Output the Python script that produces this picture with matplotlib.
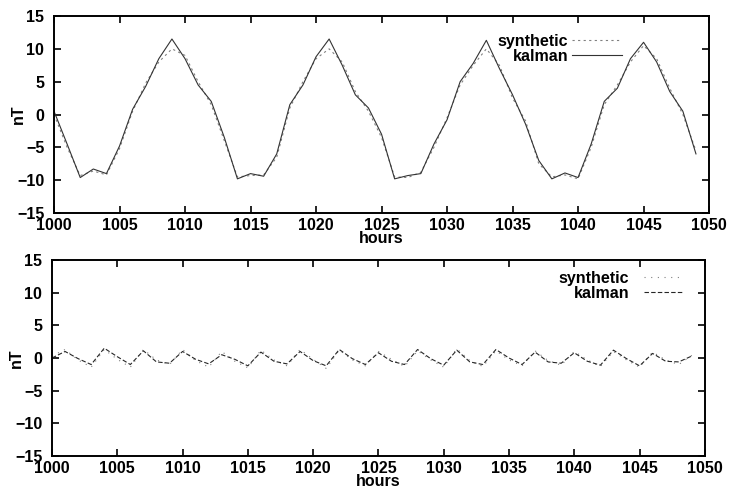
import numpy as np
import matplotlib
matplotlib.use("Agg")
import matplotlib.pyplot as plt

plt.rcParams['font.family'] = ['Liberation Sans', 'DejaVu Sans']
plt.rcParams['font.weight'] = 'bold'

# hourly samples
hours_top = np.arange(1000, 1050)
synthetic_top = [0.0, -5.0, -9.3, -8.6, -9.2, -5.2, 0.5, 4.8, 8.0, 10.0,
                 9.0, 5.0, 1.5, -4.0, -9.5, -9.3, -9.2, -6.5, 1.0, 5.0,
                 8.5, 10.0, 8.0, 3.5, 0.5, -3.5, -9.5, -9.6, -8.8, -5.0,
                 -0.5, 4.5, 7.5, 10.0, 7.5, 2.5, -1.0, -7.5, -9.5, -9.2,
                 -9.8, -5.0, 1.5, 4.5, 8.0, 10.5, 8.5, 4.0, 0.0, -5.5]
kalman_top = [0.5, -4.5, -9.6, -8.3, -9.0, -4.8, 0.8, 4.3, 8.5, 11.5,
              8.5, 4.5, 2.0, -3.5, -9.8, -9.0, -9.4, -6.0, 1.5, 4.5,
              8.8, 11.5, 7.5, 3.0, 1.0, -3.0, -9.8, -9.3, -9.0, -4.5,
              -0.8, 5.0, 7.8, 11.3, 7.0, 3.0, -1.5, -7.0, -9.8, -8.9,
              -9.6, -4.5, 2.0, 4.0, 8.5, 11.0, 8.0, 3.5, 0.5, -6.0]

hours_bot = np.arange(1000, 1050)
synthetic_bot = [0.3, 1.3, -0.3, -1.4, 1.3, -0.2, -1.4, 1.3, -0.3, -1.0,
                 1.3, -0.4, -1.4, 1.0, -0.5, -1.5, 1.2, -0.3, -1.2, 1.3,
                 -0.2, -1.6, 1.2, -0.3, -1.2, 1.0, -0.2, -1.3, 1.1, -0.3,
                 -1.4, 1.4, -0.4, -1.3, 1.1, -0.3, -1.2, 1.1, -0.4, -1.1,
                 1.0, -0.3, -1.3, 1.0, -0.3, -1.4, 0.9, -0.3, -1.0, 0.4]
kalman_bot = [0.0, 1.0, -0.1, -1.0, 1.5, 0.2, -1.0, 1.1, -0.6, -0.8,
              1.0, -0.2, -0.9, 0.5, -0.2, -1.2, 0.9, -0.5, -0.9, 1.0,
              -0.4, -1.2, 1.3, -0.1, -1.0, 0.8, -0.5, -1.0, 1.3, -0.1,
              -1.1, 1.2, -0.6, -1.0, 1.3, 0.0, -1.0, 0.9, -0.6, -0.8,
              0.8, -0.5, -1.1, 1.2, -0.1, -1.2, 0.7, -0.5, -0.6, 0.3]

xticks = np.arange(1000, 1051, 5)
yticks = np.arange(-15, 16, 5)

fig = plt.figure(figsize=(7.41, 4.90), dpi=100)
ax1 = fig.add_axes([0.0729, 0.5653, 0.884, 0.402])
ax2 = fig.add_axes([0.0702, 0.0694, 0.881, 0.400])

ax1.plot(hours_top, synthetic_top, color='0.5', lw=0.8, ls=(0, (2, 3)), label='synthetic')
ax1.plot(hours_top, kalman_top, color='0.2', lw=0.8, ls='-', label='kalman')

ax2.plot(hours_bot, synthetic_bot, color='0.5', lw=0.8, ls=(0, (1, 5)), label='synthetic')
ax2.plot(hours_bot, kalman_bot, color='0.15', lw=0.8, ls=(0, (4, 2)), label='kalman')

for ax in (ax1, ax2):
    ax.set_xlim(1000, 1050)
    ax.set_ylim(-15, 15)
    ax.set_xticks(xticks)
    ax.set_yticks(yticks)
    ax.tick_params(direction='in', length=5, width=1.2, top=True, right=True,
                   labelsize=11.5)
    ax.tick_params(axis='x', pad=3.5)
    ax.tick_params(axis='y', pad=7)
    for s in ax.spines.values():
        s.set_linewidth(1.4)
    ax.set_xlabel('hours', fontsize=11.5, fontweight='bold', labelpad=-1)
    ax.set_ylabel('nT', fontsize=11.5, fontweight='bold')
    ax.yaxis.set_label_coords(-0.043, 0.5)

ax1.legend(loc='upper right', bbox_to_anchor=(0.867, 0.909), frameon=False,
           markerfirst=False, borderpad=0, borderaxespad=0, handlelength=3.1,
           handletextpad=0.25, labelspacing=0.0,
           prop={'size': 11.5, 'weight': 'bold'})
ax2.legend(loc='upper right', bbox_to_anchor=(0.965, 0.944), frameon=False,
           markerfirst=False, borderpad=0, borderaxespad=0, handlelength=2.4,
           handletextpad=0.9, labelspacing=0.0,
           prop={'size': 11.5, 'weight': 'bold'})

fig.savefig('out.png', dpi=100)
